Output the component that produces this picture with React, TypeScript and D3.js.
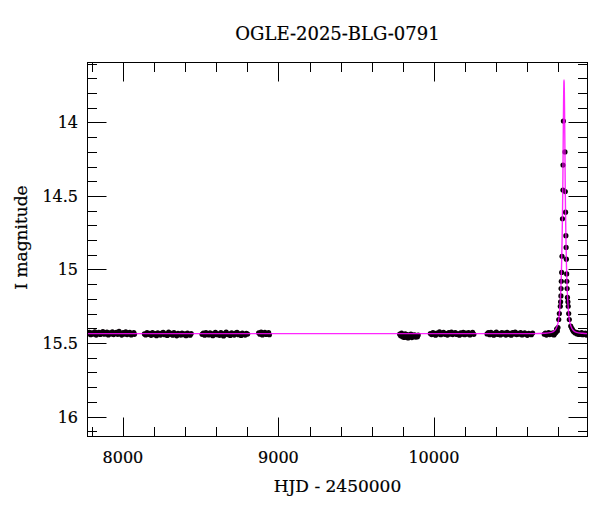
import React from "react";
import * as d3 from "d3";

const TITLE = "OGLE-2025-BLG-0791";
const X_LABEL = "HJD - 2450000";
const Y_LABEL = "I magnitude";
const X_DOMAIN = [7772, 10988];
const Y_DOMAIN = [13.592, 16.136];
const X_MAJOR = [8000, 9000, 10000];
const Y_MAJOR = [14, 14.5, 15, 15.5, 16];
const Y_MAJOR_LABELS = ["14", "14.5", "15", "15.5", "16"];

const season1 = [[7776,15.437],[7784,15.428],[7793,15.444],[7801,15.431],[7810,15.439],[7819,15.425],[7828,15.446],[7836,15.433],[7845,15.427],[7854,15.442],[7862,15.430],[7871,15.422],[7880,15.440],[7888,15.434],[7897,15.426],[7906,15.445],[7914,15.431],[7923,15.438],[7932,15.424],[7940,15.443],[7949,15.433],[7958,15.427],[7966,15.441],[7975,15.421],[7984,15.437],[7992,15.446],[8001,15.430],[8010,15.439],[8018,15.425],[8027,15.443],[8036,15.432],[8044,15.428],[8053,15.445],[8062,15.436],[8070,15.430],[8074,15.441]];
const season2 = [[8138,15.438],[8146,15.445],[8155,15.430],[8164,15.441],[8172,15.434],[8181,15.448],[8190,15.429],[8198,15.443],[8207,15.436],[8216,15.450],[8224,15.431],[8233,15.440],[8242,15.446],[8250,15.433],[8259,15.427],[8268,15.444],[8276,15.437],[8285,15.449],[8294,15.426],[8302,15.441],[8311,15.435],[8320,15.447],[8328,15.430],[8337,15.442],[8346,15.451],[8354,15.434],[8363,15.439],[8372,15.446],[8380,15.432],[8389,15.444],[8398,15.437],[8406,15.450],[8415,15.433],[8424,15.441],[8432,15.447],[8439,15.436]];
const season3 = [[8509,15.441],[8517,15.433],[8526,15.447],[8534,15.429],[8543,15.438],[8552,15.445],[8560,15.431],[8569,15.442],[8578,15.450],[8586,15.434],[8595,15.427],[8604,15.444],[8612,15.437],[8621,15.448],[8630,15.430],[8638,15.441],[8647,15.452],[8656,15.435],[8664,15.426],[8673,15.443],[8682,15.438],[8690,15.449],[8699,15.431],[8708,15.440],[8716,15.446],[8725,15.433],[8734,15.428],[8742,15.444],[8751,15.437],[8760,15.449],[8768,15.432],[8777,15.441],[8786,15.446],[8794,15.434],[8802,15.439]];
const season4 = [[8873,15.431],[8881,15.440],[8889,15.426],[8897,15.445],[8905,15.435],[8913,15.428],[8921,15.442],[8929,15.437],[8937,15.430],[8942,15.444]];
const season5 = [[9780,15.440],[9786,15.450],[9792,15.433],[9798,15.458],[9804,15.445],[9810,15.462],[9816,15.437],[9822,15.452],[9828,15.443],[9834,15.466],[9840,15.448],[9846,15.455],[9852,15.439],[9858,15.463],[9864,15.447],[9870,15.456],[9876,15.444],[9882,15.460],[9888,15.450],[9894,15.458],[9899,15.446]];
const season6 = [[9977,15.436],[9985,15.443],[9994,15.429],[10002,15.440],[10011,15.447],[10019,15.432],[10028,15.438],[10036,15.425],[10045,15.444],[10053,15.434],[10062,15.428],[10070,15.441],[10079,15.436],[10087,15.446],[10096,15.430],[10104,15.439],[10113,15.426],[10121,15.443],[10130,15.435],[10138,15.429],[10147,15.442],[10155,15.437],[10164,15.447],[10172,15.431],[10181,15.440],[10189,15.427],[10198,15.444],[10206,15.433],[10215,15.439],[10223,15.430],[10232,15.445],[10240,15.436],[10249,15.428],[10257,15.441]];
const season7 = [[10342,15.438],[10350,15.430],[10359,15.444],[10367,15.427],[10376,15.440],[10385,15.447],[10393,15.433],[10402,15.426],[10411,15.442],[10419,15.436],[10428,15.445],[10437,15.429],[10445,15.439],[10454,15.432],[10463,15.446],[10471,15.428],[10480,15.441],[10489,15.435],[10497,15.447],[10506,15.430],[10515,15.438],[10523,15.426],[10532,15.443],[10541,15.434],[10549,15.440],[10558,15.429],[10567,15.445],[10575,15.437],[10584,15.431],[10593,15.442],[10601,15.448],[10610,15.434],[10619,15.439],[10627,15.444],[10635,15.432]];
const season8 = [[10710,15.440],[10717,15.432],[10724,15.446],[10731,15.436],[10738,15.429],[10745,15.443],[10752,15.434],[10759,15.440],[10766,15.431],[10772,15.445],[10778,15.436],[10784,15.428],[10789,15.405],[10794,15.418],[10798,15.395],[10803,15.34],[10807,15.30],[10813,15.25],[10815,15.22],[10817,15.18],[10818,15.13],[10819.5,15.08],[10822,15.02],[10824,14.91],[10827,14.655],[10830,14.46],[10830.5,14.29],[10833,13.99],[10843,14.20],[10845,14.47],[10847,14.61],[10849,14.77],[10850.5,14.85],[10852,14.93],[10854,15.03],[10855,15.08],[10857,15.13],[10859,15.19],[10862,15.22],[10864,15.25],[10867,15.30],[10871,15.34],[10880,15.385],[10887,15.40],[10892,15.41],[10897,15.42],[10903,15.425],[10909,15.432],[10915,15.428],[10921,15.438],[10927,15.431],[10933,15.442],[10939,15.434],[10945,15.440],[10951,15.429],[10957,15.444],[10963,15.436],[10969,15.441],[10975,15.433],[10981,15.446],[10986,15.438]];

const modelT = [7772,10637,10717,10757,10777,10787,10797,10802,10807,10812,10816,10819,10821,10823,10825,10827,10829,10830,10831,10832,10833,10834,10835,10836,10837,10838,10839,10840,10841,10842,10843,10844,10845,10847,10849,10851,10853,10855,10858,10862,10867,10872,10877,10887,10897,10917,10957,10988];
const modelMag = [15.436,15.436,15.434,15.428,15.415,15.40,15.37,15.345,15.30,15.23,15.15,15.06,14.98,14.88,14.77,14.63,14.46,14.34,14.21,14.09,13.98,13.88,13.79,13.73,13.71,13.73,13.79,13.88,13.98,14.09,14.21,14.34,14.46,14.63,14.77,14.88,14.98,15.06,15.15,15.23,15.30,15.345,15.37,15.40,15.415,15.428,15.434,15.436];

const W = 600, H = 512;
const L = 87.5, R = 587.5, T = 62.5, B = 436.5;
const FONT = "'DejaVu Serif', serif";

export default function App() {
  const x = d3.scaleLinear().domain(X_DOMAIN).range([L, R]);
  const y = d3.scaleLinear().domain(Y_DOMAIN).range([T, B]);
  const points = [...season1, ...season2, ...season3, ...season4, ...season5, ...season6, ...season7, ...season8];
  const model = modelT.map((t, i) => [t, modelMag[i]]);
  const line = d3.line<number[]>().x(d => x(d[0])).y(d => y(d[1])).curve(d3.curveMonotoneX);

  const xMinor = d3.range(7800, 11000, 200).filter(v => v >= X_DOMAIN[0] && v <= X_DOMAIN[1] && !X_MAJOR.includes(v));
  const yMinor = d3.range(136, 162).map(v => v / 10).filter(v => v >= Y_DOMAIN[0] && v <= Y_DOMAIN[1] && !Y_MAJOR.some(m => Math.abs(m - v) < 1e-6));
  const MAJ = 19, MIN = 9.5;
  const textStyle = { stroke: "#000", strokeWidth: 0.2 } as const;

  return (
    <svg width={W} height={H} style={{ position: "absolute", left: 0, top: 0, background: "#fff" }} fontFamily={FONT}>
      <defs>
        <clipPath id="plot"><rect x={L} y={T} width={R - L} height={B - T} /></clipPath>
      </defs>
      <text x={(L + R) / 2} y={40} textAnchor="middle" fontSize={18} {...textStyle}>{TITLE}</text>
      <g clipPath="url(#plot)">
        {points.map((p, i) => (
          <circle key={i} cx={x(p[0])} cy={y(p[1])} r={2.6} fill="#0a0008" />
        ))}
        <path d={line(model) || ""} fill="none" stroke="#ff00ff" strokeOpacity={0.85} strokeWidth={1.4} />
      </g>
      <g stroke="#000" strokeWidth={1}>
        {X_MAJOR.map(v => (
          <g key={"xm" + v}>
            <line x1={Math.round(x(v)) + 0.5} x2={Math.round(x(v)) + 0.5} y1={B} y2={B - MAJ} />
            <line x1={Math.round(x(v)) + 0.5} x2={Math.round(x(v)) + 0.5} y1={T} y2={T + MAJ} />
          </g>
        ))}
        {xMinor.map(v => (
          <g key={"xn" + v}>
            <line x1={Math.round(x(v)) + 0.5} x2={Math.round(x(v)) + 0.5} y1={B} y2={B - MIN} />
            <line x1={Math.round(x(v)) + 0.5} x2={Math.round(x(v)) + 0.5} y1={T} y2={T + MIN} />
          </g>
        ))}
        {Y_MAJOR.map(v => (
          <g key={"ym" + v}>
            <line x1={L} x2={L + MAJ} y1={Math.round(y(v)) + 0.5} y2={Math.round(y(v)) + 0.5} />
            <line x1={R} x2={R - MAJ} y1={Math.round(y(v)) + 0.5} y2={Math.round(y(v)) + 0.5} />
          </g>
        ))}
        {yMinor.map(v => (
          <g key={"yn" + v}>
            <line x1={L} x2={L + MIN} y1={Math.round(y(v)) + 0.5} y2={Math.round(y(v)) + 0.5} />
            <line x1={R} x2={R - MIN} y1={Math.round(y(v)) + 0.5} y2={Math.round(y(v)) + 0.5} />
          </g>
        ))}
        <rect x={L} y={T} width={R - L} height={B - T} fill="none" />
      </g>
      {X_MAJOR.map(v => (
        <text key={"xl" + v} x={x(v)} y={463} textAnchor="middle" fontSize={16} {...textStyle}>{String(v)}</text>
      ))}
      {Y_MAJOR.map((v, i) => (
        <text key={"yl" + v} x={78} y={y(v) + 6} textAnchor="end" fontSize={16} {...textStyle}>{Y_MAJOR_LABELS[i]}</text>
      ))}
      <text x={(L + R) / 2} y={492} textAnchor="middle" fontSize={17} {...textStyle}>{X_LABEL}</text>
      <text transform={`translate(27,${(T + B) / 2 - 12}) rotate(-90)`} textAnchor="middle" fontSize={17} {...textStyle}>{Y_LABEL}</text>
    </svg>
  );
}
